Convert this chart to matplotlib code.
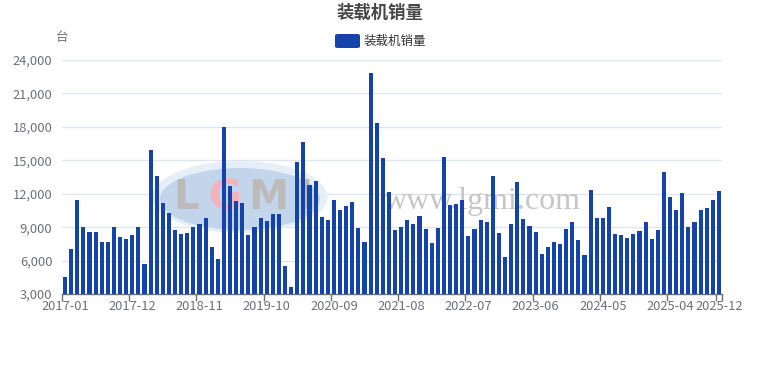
import matplotlib
matplotlib.use("Agg")
import matplotlib.pyplot as plt
from matplotlib.patches import Ellipse, FancyBboxPatch
from matplotlib.ticker import FuncFormatter

plt.rcParams["font.family"] = ["Noto Sans CJK SC", "DejaVu Sans"]

TITLE = "装载机销量"
SERIES = "装载机销量"
UNIT = "台"

months = [f"{y}-{m:02d}" for y in range(2017, 2026) for m in range(1, 13)]
sales = [
    # 2017
    4500, 7040, 11430, 9040, 8530, 8590, 7640, 7670, 9040, 8140, 7970, 8290,
    # 2018
    9040, 5690, 15950, 13560, 11200, 10240, 8770, 8410, 8440, 9010, 9310, 9820,
    # 2019
    7250, 6170, 17950, 12720, 11380, 11140, 8320, 9010, 9820, 9550, 10180, 10210,
    # 2020
    5540, 3630, 14870, 16670, 12780, 13110, 9910, 9670, 11430, 10570, 10930, 11250,
    # 2021
    8920, 7670, 22830, 18370, 15170, 12180, 8770, 9040, 9610, 9310, 10000, 8860,
    # 2022
    7610, 8890, 15320, 10990, 11080, 11460, 8170, 8800, 9670, 9460, 13620, 8440,
    # 2023
    6350, 9280, 13080, 9730, 9100, 8560, 6620, 7250, 7700, 7520, 8860, 9430,
    # 2024
    7820, 6500, 12330, 9790, 9820, 10810, 8380, 8320, 8060, 8380, 8650, 9430,
    # 2025
    7940, 8740, 13950, 11670, 10540, 12030, 9010, 9460, 10540, 10690, 11430, 12240,
]
label_idx = [0, 11, 22, 33, 44, 55, 66, 77, 88, 99, 107]
yticks = list(range(3000, 24001, 3000))

W, H = 760, 370
BAR = "#1443aa"
TXT = "#6e7079"
GRID = "#e0e6f1"


def fx(x):
    return x / W


def fy(y):
    return 1 - y / H


fig = plt.figure(figsize=(W / 100, H / 100), dpi=100)
ax = fig.add_axes([fx(62), fy(294), fx(722) - fx(62), fy(60) - fy(294)])

x = list(range(len(months)))
ax.bar(x, sales, width=0.66, color=BAR, zorder=3)
ax.set_xlim(-0.5, len(months) - 0.5)
ax.set_ylim(3000, 24000)

ax.set_yticks(yticks)
ax.yaxis.set_major_formatter(FuncFormatter(lambda v, p: f"{int(v):,}"))
ax.grid(axis="y", color=GRID, lw=1, zorder=0)
ax.set_axisbelow(True)

ax.set_xticks(label_idx, [months[i] for i in label_idx])
ax.set_xticks([i - 0.5 for i in label_idx] + [len(months) - 0.5], minor=True)
ax.tick_params(axis="x", which="major", length=0, pad=4, labelsize=9.3, colors=TXT)
ax.tick_params(axis="x", which="minor", length=5, width=1, color=TXT)
ax.tick_params(axis="y", length=0, pad=7, labelsize=9.3, colors=TXT)

for s in ("top", "right", "left"):
    ax.spines[s].set_visible(False)
ax.spines["bottom"].set_color(TXT)
ax.spines["bottom"].set_linewidth(1)

# watermark behind bars
ring = Ellipse((fx(240), fy(197)), fx(175), 72 / H, transform=fig.transFigure,
               facecolor="#e6eef7", edgecolor="none", zorder=1, clip_on=False)
ell = Ellipse((fx(240), fy(199)), fx(160), 62 / H, transform=fig.transFigure,
              facecolor="#c3d5eb", edgecolor="none", zorder=1, clip_on=False)
ax.add_patch(ring)
ax.add_patch(ell)
for ch, cx, col in (("L", 186, "#bdbaba"), ("G", 226, "#f3b3bb"),
                    ("M", 268, "#bdbaba"), ("I", 305, "#bdbaba")):
    ax.text(fx(cx), fy(198), ch, transform=fig.transFigure, fontsize=29,
            fontweight="bold", color=col, ha="center",
            va="center", zorder=1.5, family=["DejaVu Sans"])
ax.text(fx(482), fy(202), "www.lgmi.com", transform=fig.transFigure,
        fontsize=23, color="#c6c6c6", ha="center", va="center", zorder=1.5,
        family=["Liberation Serif", "DejaVu Serif"])

fig.text(fx(380), fy(13), TITLE, ha="center", va="center", fontsize=12.5,
         fontweight="bold", color="#464646")
fig.patches.append(FancyBboxPatch((fx(335), fy(48)), fx(25), 14 / H,
                                  boxstyle="round,pad=0,rounding_size=0.004",
                                  transform=fig.transFigure, facecolor=BAR,
                                  edgecolor="none"))
fig.text(fx(364), fy(41), SERIES, ha="left", va="center", fontsize=9, color="#333333")
fig.text(fx(62), fy(38), UNIT, ha="center", va="center", fontsize=9, color=TXT)

fig.savefig("out.png", dpi=100)
